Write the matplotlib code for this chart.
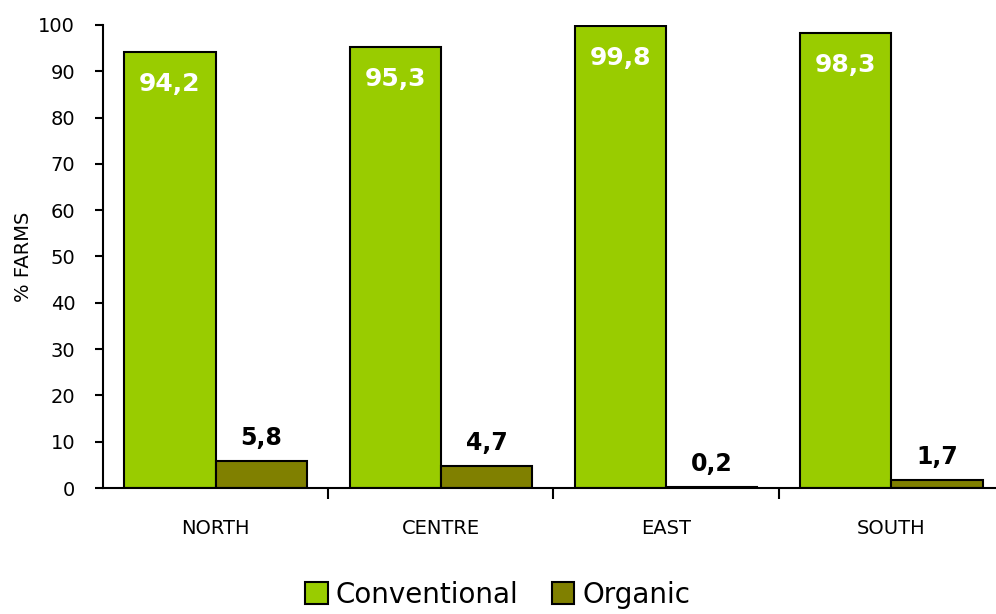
import matplotlib.pyplot as plt
import numpy as np

regions = ["NORTH", "CENTRE", "EAST", "SOUTH"]
conventional = [94.2, 95.3, 99.8, 98.3]
organic = [5.8, 4.7, 0.2, 1.7]

plt.rcParams['font.family'] = ['DejaVu Sans']

fig = plt.figure(figsize=(9.96, 6.14), dpi=100)
ax = fig.add_axes([0.1034, 0.2052, 0.9046, 0.7541])

x = np.arange(len(regions))
w = 0.405
b1 = ax.bar(x - w / 2, conventional, w, color='#99CC00', edgecolor='black', linewidth=1.5,
            label='Conventional')
b2 = ax.bar(x + w / 2, organic, w, color='#808000', edgecolor='black', linewidth=1.5,
            label='Organic')

for xi, v in zip(x, conventional):
    ax.text(xi - w / 2, v - 7, f"{v:.1f}".replace('.', ','), ha='center', va='center',
            color='white', fontsize=18, fontweight='semibold')
for xi, v in zip(x, organic):
    ax.text(xi + w / 2, v + 5.0, f"{v:.1f}".replace('.', ','), ha='center', va='center',
            color='black', fontsize=17, fontweight='bold')

ax.set_xlim(-0.5, 3.5)
ax.set_ylim(0, 100)
ax.set_yticks(range(0, 101, 10))
ax.tick_params(axis='y', labelsize=14, length=6, width=1.5, direction='out', pad=14)
ax.set_xticks(x)
ax.set_xticklabels(regions)
ax.tick_params(axis='x', which='major', length=0, labelsize=14, pad=22)
ax.set_xticks([0.5, 1.5, 2.5], minor=True)
ax.tick_params(axis='x', which='minor', length=8, width=1.5, direction='out')
ax.set_ylabel('% FARMS', fontsize=14, labelpad=4)

for s in ['top', 'right']:
    ax.spines[s].set_visible(False)
ax.spines['left'].set_linewidth(1.5)
ax.spines['bottom'].set_linewidth(1.5)

fig.legend(handles=[b1, b2], loc='lower center', bbox_to_anchor=(0.5, -0.032), ncol=2,
           frameon=False, fontsize=20, handlelength=0.8, handleheight=0.8,
           handletextpad=0.3, columnspacing=1.2)

fig.savefig('out.png', dpi=100)
